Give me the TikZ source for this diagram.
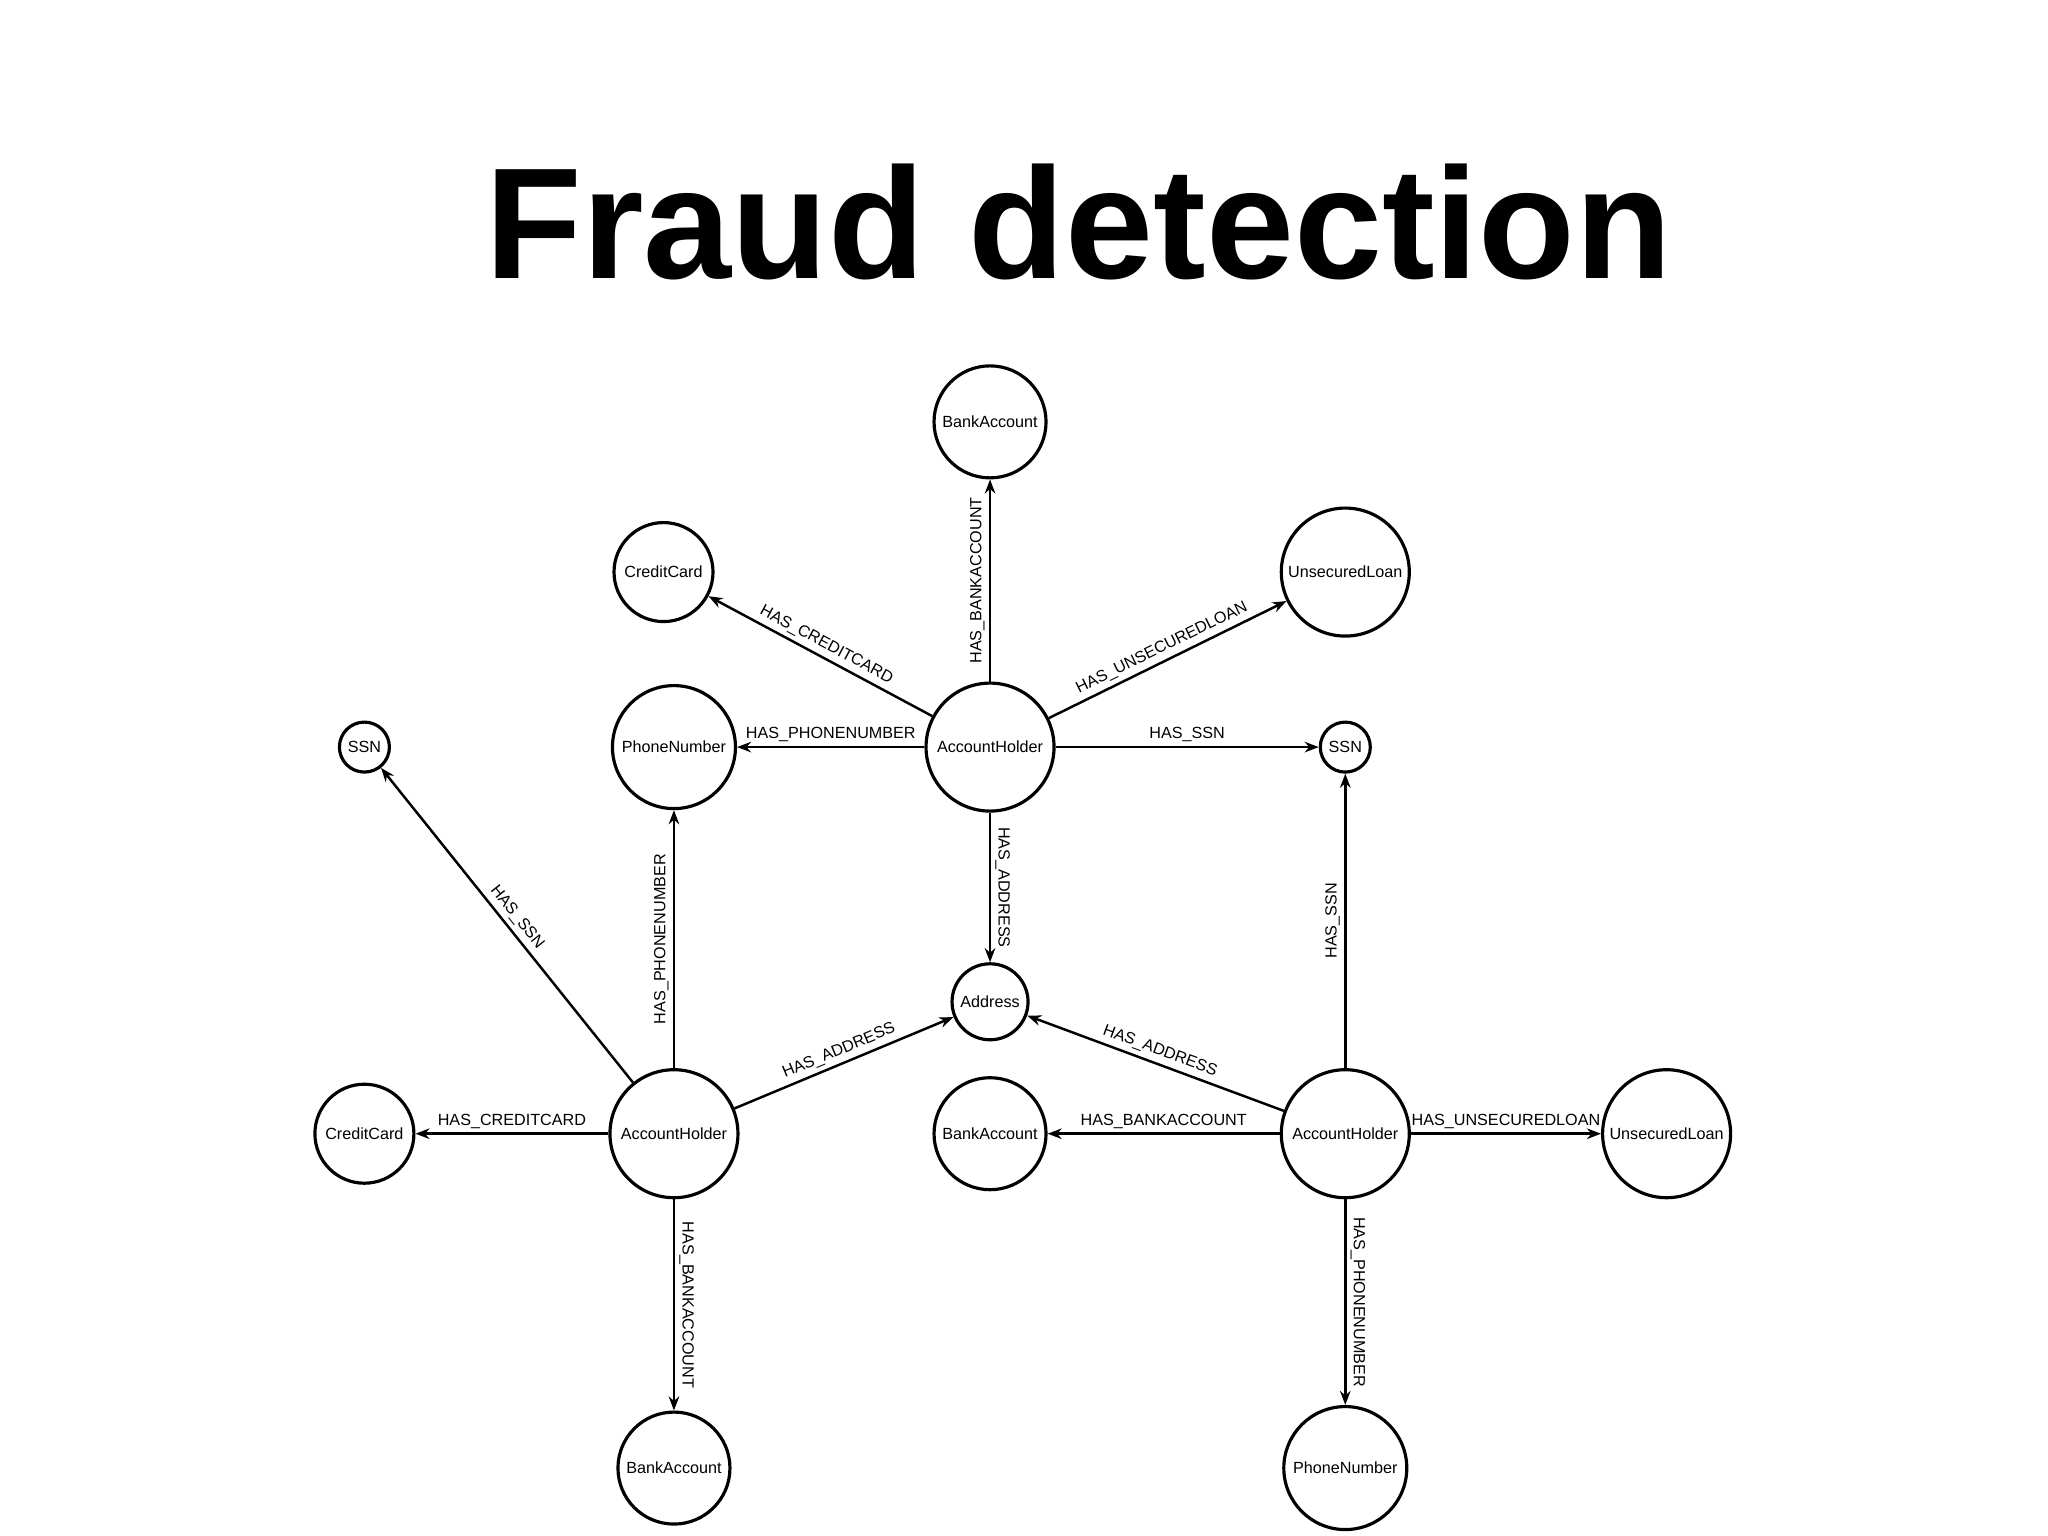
\documentclass[tikz,border=0pt]{standalone}
\usepackage{fontspec}
\setmainfont{Liberation Sans}
\usetikzlibrary{arrows.meta}
\begin{document}
\begin{tikzpicture}[x=0.013061cm,y=-0.013061cm,
 nd/.style={circle,draw,line width=0.9pt,inner sep=0pt,minimum size=#1,font=\fontsize{4.6}{5.5}\selectfont},
 ed/.style={-{Stealth[length=4pt,width=3pt]},line width=0.7pt},
 lb/.style={font=\fontsize{4.6}{5.5}\selectfont,sloped,above,inner sep=1.2pt}]
\useasboundingbox (0,0) rectangle (1568,1176);
\node[font=\bfseries\fontsize{45}{50}\selectfont] (title) at (826,170) {Fraud detection};
\node[nd=1.12cm] (ba1) at (758,323) {BankAccount};
\node[nd=0.99cm] (cc1) at (508,438) {CreditCard};
\node[nd=1.28cm] (ul1) at (1030,438) {UnsecuredLoan};
\node[nd=1.28cm] (ah1) at (758,572) {AccountHolder};
\node[nd=1.23cm] (pn1) at (516,572) {PhoneNumber};
\node[nd=0.50cm] (ssn1) at (1030,572) {SSN};
\node[nd=0.50cm] (ssn2) at (279,572) {SSN};
\node[nd=0.76cm] (ad) at (758,767) {Address};
\node[nd=1.28cm] (ah2) at (516,868) {AccountHolder};
\node[nd=0.99cm] (cc2) at (279,868) {CreditCard};
\node[nd=1.12cm] (ba2) at (758,868) {BankAccount};
\node[nd=1.28cm] (ah3) at (1030,868) {AccountHolder};
\node[nd=1.28cm] (ul2) at (1276,868) {UnsecuredLoan};
\node[nd=1.12cm] (ba3) at (516,1124) {BankAccount};
\node[nd=1.23cm] (pn2) at (1030,1124) {PhoneNumber};
\draw[ed] (ah1) -- node[lb]{HAS\_BANKACCOUNT} (ba1);
\draw[ed] (ah1) -- node[lb]{HAS\_CREDITCARD} (cc1);
\draw[ed] (ah1) -- node[lb]{HAS\_UNSECUREDLOAN} (ul1);
\draw[ed] (ah1) -- node[lb]{HAS\_PHONENUMBER} (pn1);
\draw[ed] (ah1) -- node[lb]{HAS\_SSN} (ssn1);
\draw[ed] (ah1) -- node[lb]{HAS\_ADDRESS} (ad);
\draw[ed] (ah2) -- node[lb]{HAS\_SSN} (ssn2);
\draw[ed] (ah2) -- node[lb]{HAS\_PHONENUMBER} (pn1);
\draw[ed] (ah2) -- node[lb]{HAS\_ADDRESS} (ad);
\draw[ed] (ah2) -- node[lb]{HAS\_CREDITCARD} (cc2);
\draw[ed] (ah2) -- node[lb]{HAS\_BANKACCOUNT} (ba3);
\draw[ed] (ah3) -- node[lb]{HAS\_ADDRESS} (ad);
\draw[ed] (ah3) -- node[lb]{HAS\_SSN} (ssn1);
\draw[ed] (ah3) -- node[lb]{HAS\_BANKACCOUNT} (ba2);
\draw[ed] (ah3) -- node[lb]{HAS\_UNSECUREDLOAN} (ul2);
\draw[ed] (ah3) -- node[lb]{HAS\_PHONENUMBER} (pn2);
\end{tikzpicture}
\end{document}
